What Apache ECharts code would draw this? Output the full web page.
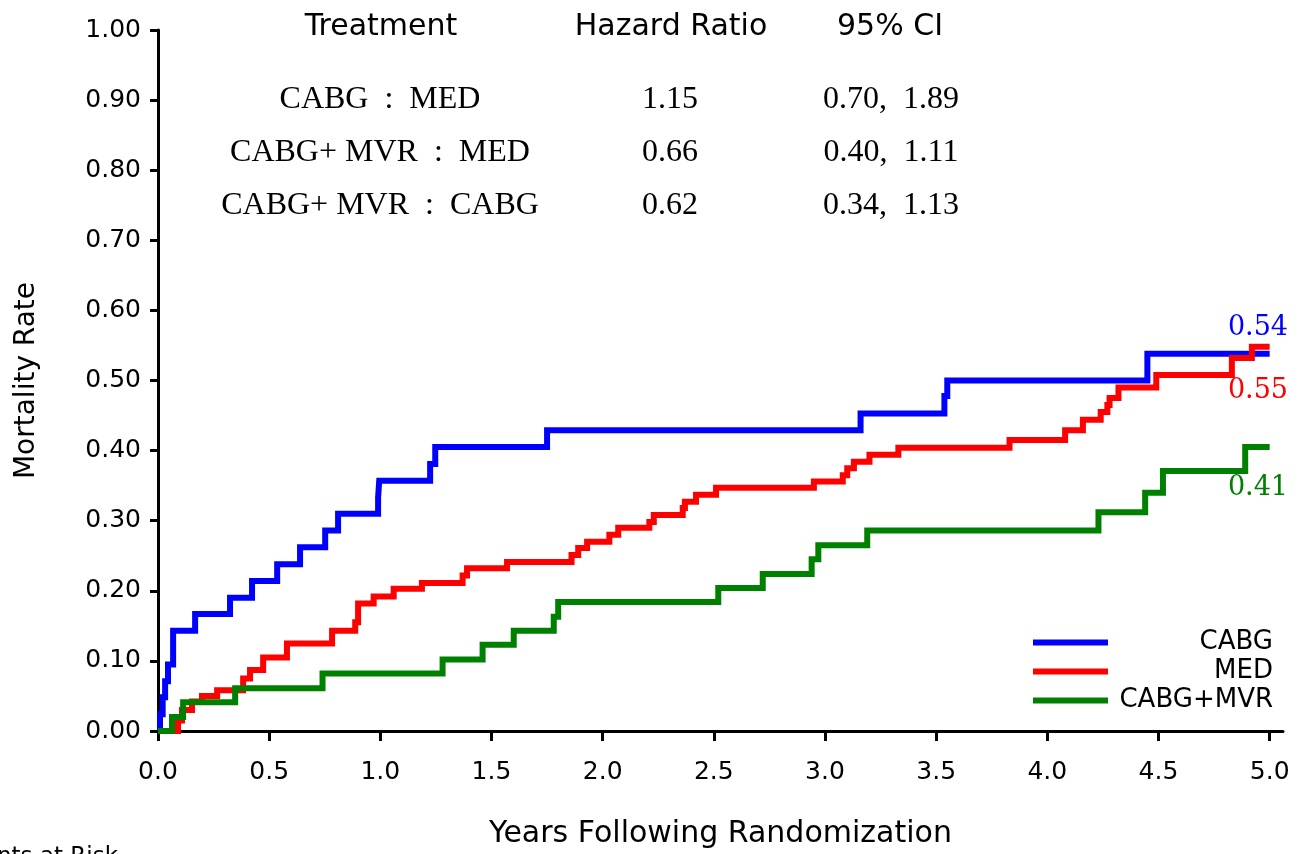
<!DOCTYPE html>
<html>
<head>
<meta charset="utf-8">
<script src="https://cdn.jsdelivr.net/npm/echarts@6/dist/echarts.min.js"></script>
<style>
html,body{margin:0;padding:0;background:#fff;}
#chart{width:1304px;height:854px;}
</style>
</head>
<body>
<div id="chart"></div>
<script>
// ---- data ----
const seriesNames = ['CABG', 'MED', 'CABG+MVR'];
const cabg = [[0,0],[0.009,0.024],[0.021,0.048],[0.032,0.071],[0.045,0.095],[0.068,0.143],[0.167,0.167],[0.324,0.19],[0.423,0.214],[0.536,0.238],[0.639,0.262],[0.752,0.286],[0.81,0.31],[0.99,0.333],[0.995,0.357],[1.224,0.381],[1.247,0.405],[1.75,0.429],[3.16,0.453],[3.537,0.478],[3.55,0.50],[4.45,0.538],[5.0,0.538]];
const med = [[0,0],[0.09,0.015],[0.108,0.03],[0.153,0.042],[0.198,0.05],[0.266,0.058],[0.383,0.075],[0.414,0.087],[0.473,0.105],[0.58,0.125],[0.783,0.143],[0.887,0.155],[0.90,0.182],[0.97,0.192],[1.06,0.203],[1.187,0.211],[1.37,0.222],[1.39,0.232],[1.57,0.241],[1.86,0.251],[1.89,0.261],[1.93,0.27],[2.03,0.28],[2.07,0.29],[2.21,0.298],[2.23,0.308],[2.36,0.318],[2.37,0.327],[2.42,0.337],[2.51,0.347],[2.95,0.356],[3.08,0.365],[3.10,0.375],[3.13,0.384],[3.20,0.394],[3.33,0.404],[3.83,0.415],[4.08,0.429],[4.16,0.444],[4.24,0.455],[4.27,0.465],[4.28,0.475],[4.32,0.49],[4.49,0.508],[4.83,0.532],[4.92,0.548],[5.0,0.548]];
const cabgMvr = [[0,0],[0.063,0.02],[0.113,0.041],[0.347,0.061],[0.74,0.082],[1.28,0.102],[1.46,0.123],[1.6,0.143],[1.78,0.163],[1.8,0.184],[2.52,0.204],[2.72,0.224],[2.94,0.245],[2.97,0.265],[3.19,0.286],[4.23,0.312],[4.44,0.34],[4.52,0.371],[4.89,0.405],[5.0,0.405]];
const xTicks = [0,0.5,1,1.5,2,2.5,3,3.5,4,4.5,5];
const endLabels = ['0.54', '0.55', '0.41'];
const tableHeader = ['Treatment', 'Hazard Ratio', '95% CI'];
const tableComparisons = ['CABG  :  MED', 'CABG+ MVR  :  MED', 'CABG+ MVR  :  CABG'];
const tableHR = ['1.15', '0.66', '0.62'];
const tableCI = ['0.70,  1.89', '0.40,  1.11', '0.34,  1.13'];
const colors = ['#0000ff', '#ff0000', '#008000'];

const sans = 'DejaVu Sans';
const serif = 'Liberation Serif';

const chart = echarts.init(document.getElementById('chart'));

const graphics = [];
const headerX = [381, 671, 890];
tableHeader.forEach((t, i) => graphics.push({
  type: 'text', x: headerX[i], y: 27,
  style: {text: t, fontFamily: sans, fontSize: 30, fill: '#000', textAlign: 'center', textVerticalAlign: 'middle'}
}));
const rowY = [100, 153, 206];
tableComparisons.forEach((t, i) => {
  graphics.push({type: 'text', x: 380, y: rowY[i], style: {text: t, fontFamily: serif, fontSize: 32, fill: '#000', textAlign: 'center', textVerticalAlign: 'middle'}});
  graphics.push({type: 'text', x: 670, y: rowY[i], style: {text: tableHR[i], fontFamily: serif, fontSize: 32, fill: '#000', textAlign: 'center', textVerticalAlign: 'middle'}});
  graphics.push({type: 'text', x: 891, y: rowY[i], style: {text: tableCI[i], fontFamily: serif, fontSize: 32, fill: '#000', textAlign: 'center', textVerticalAlign: 'middle'}});
});
const endY = [328, 391, 488];
endLabels.forEach((t, i) => graphics.push({
  type: 'text', x: 1288, y: endY[i],
  style: {text: t, fontFamily: 'DejaVu Serif', fontSize: 27, fill: colors[i], textAlign: 'right', textVerticalAlign: 'middle'}
}));
graphics.push({
  type: 'text', x: 118, y: 846,
  style: {text: 'Patients at Risk', fontFamily: sans, fontSize: 23, fill: '#000', textAlign: 'right', textVerticalAlign: 'top'}
});

const seriesData = [cabg, med, cabgMvr];

chart.setOption({
  animation: false,
  backgroundColor: '#fff',
  color: colors,
  grid: {left: 158, right: 21, top: 30, bottom: 123, containLabel: false},
  legend: {
    data: seriesNames,
    orient: 'vertical',
    left: 1033, top: 628, padding: 0,
    itemWidth: 75, itemHeight: 6, itemGap: 0,
    icon: 'rect',
    formatter: name => '{r|' + name + '}',
    textStyle: {
      rich: {r: {width: 160, height: 29, align: 'right', fontFamily: sans, fontSize: 26, lineHeight: 29, color: '#000'}}
    }
  },
  xAxis: {
    type: 'value', min: 0, max: 5.06,
    name: 'Years Following Randomization', nameLocation: 'middle', nameGap: 88,
    nameTextStyle: {fontFamily: sans, fontSize: 30, color: '#000'},
    axisLine: {lineStyle: {color: '#000', width: 3}},
    axisTick: {show: true, length: 10, lineStyle: {color: '#000', width: 3}, customValues: xTicks},
    axisLabel: {customValues: xTicks, formatter: v => v.toFixed(1), fontFamily: sans, fontSize: 25, color: '#000', margin: 29},
    splitLine: {show: false}
  },
  yAxis: {
    type: 'value', min: 0, max: 1, interval: 0.1,
    name: 'Mortality Rate', nameLocation: 'middle', nameGap: 117,
    nameTextStyle: {fontFamily: sans, fontSize: 28, color: '#000'},
    axisLine: {show: true, lineStyle: {color: '#000', width: 3}},
    axisTick: {show: true, length: 8, lineStyle: {color: '#000', width: 3}},
    axisLabel: {formatter: v => v.toFixed(2), fontFamily: sans, fontSize: 25, color: '#000', margin: 17},
    splitLine: {show: false}
  },
  series: seriesNames.map((n, i) => ({
    name: n, type: 'line', step: 'end', data: seriesData[i],
    showSymbol: false, symbol: 'none',
    lineStyle: {color: colors[i], width: 6, cap: 'butt', join: 'miter'},
    itemStyle: {color: colors[i]}
  })),
  graphic: graphics
});
</script>
</body>
</html>
